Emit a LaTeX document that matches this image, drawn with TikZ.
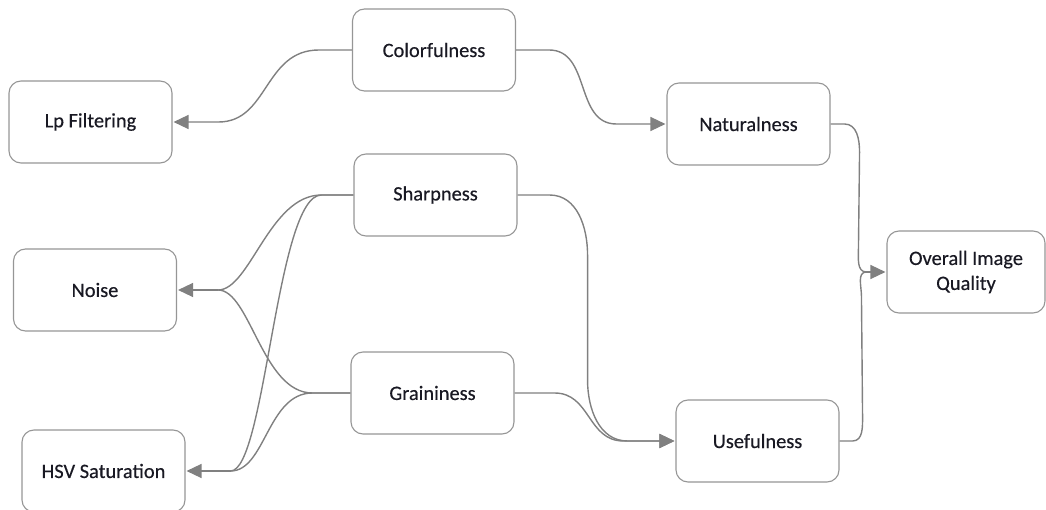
\documentclass[tikz,border=0pt]{standalone}
\usepackage{fontspec}
\setmainfont{Carlito}
\newfontfamily\labelfont[FakeBold=0.35]{Carlito}
\usetikzlibrary{arrows.meta,calc}

\definecolor{linegray}{RGB}{128,128,128}
\definecolor{boxgray}{RGB}{150,150,150}
\definecolor{txt}{RGB}{25,25,35}

\tikzset{
  factor/.style={draw=boxgray, line width=1.1pt, rounded corners=12pt, fill=white,
    minimum width=163pt, minimum height=82pt, inner sep=0pt, align=center,
    text=txt, font=\labelfont\fontsize{20.4}{25}\selectfont},
  conn/.style={draw=linegray, line width=1.4pt},
  tip/.style={conn, -{Triangle[length=15pt, width=14pt]}, shorten >=1pt},
}

\begin{document}
\begin{tikzpicture}[x=1pt, y=-1pt]
  \useasboundingbox (0,0) rectangle (1046,510);

  % factors
  \node[factor] (col) at (434,50)   {Colorfulness};
  \node[factor] (lp)  at (90.5,122) {Lp Filtering};
  \node[factor] (sha) at (435.5,195) {Sharpness};
  \node[factor] (noi) at (95,290)   {Noise};
  \node[factor] (gra) at (432.5,393) {Graininess};
  \node[factor] (hsv) at (103.5,471) {HSV Saturation};
  \node[factor] (nat) at (748.5,124) {Naturalness};
  \node[factor] (use) at (757.5,441) {Usefulness};
  \node[factor, minimum width=158pt] (ovr) at (966,272) {Overall Image\\Quality};

  % junction points in front of the arrow heads
  \coordinate (jn) at ($(noi.east)+(41,0)$);
  \coordinate (jh) at ($(hsv.east)+(45,0)$);
  \coordinate (jo) at ($(ovr.west)+(-20,0)$);

  % Colorfulness
  \draw[tip] (col.west) -- ++(-33,0)
    .. controls +(-55,0) and +(50,0) .. ($(lp.east)+(46,0)$) -- (lp.east);
  \draw[tip] (col.east) -- ++(33,0)
    .. controls +(42,0) and +(-42,0) .. ($(nat.west)+(-50,0)$) -- (nat.west);

  % Sharpness and Graininess to the left
  \draw[conn] (sha.west) -- ++(-32,0)
    .. controls +(-52,0) and +(32,0) .. (jn);
  \draw[conn] (sha.west) -- ++(-32,0)
    .. controls +(-45,0) and +(35,0) .. (jh);
  \draw[conn] (gra.west) -- ++(-38,0)
    .. controls +(-50,0) and +(32,0) .. (jn);
  \draw[conn] (gra.west) -- ++(-38,0)
    .. controls +(-45,0) and +(35,0) .. (jh);
  \draw[tip] (jn) -- (noi.east);
  \draw[tip] (jh) -- (hsv.east);

  % Sharpness and Graininess to Usefulness
  \draw[tip] (sha.east) -- ++(32,0) to[out=0,in=90] ++(38,60)
    -- ++(0,125) to[out=-90,in=180] ++(40,61) -- (use.west);
  \draw[tip] (gra.east) -- ++(40,0)
    .. controls +(36,0) and +(-36,0) .. ($(use.west)+(-52,0)$) -- (use.west);

  % to overall image quality
  \draw[conn] (nat.east) -- ++(14,0) to[out=0,in=90] ++(15,28)
    -- ($(jo)+(-8,-24)$) to[out=-90,in=180] (jo);
  \draw[conn] (use.east) -- ++(13,0) to[out=0,in=-90] ++(10,-26)
    -- ($(jo)+(-5,24)$) to[out=90,in=180] (jo);
  \draw[tip] (jo) -- (ovr.west);
\end{tikzpicture}
\end{document}
